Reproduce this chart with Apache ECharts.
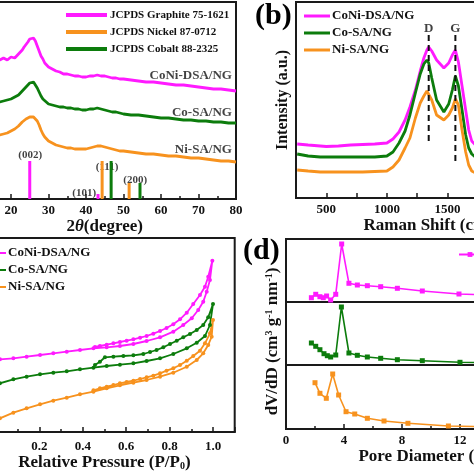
<!DOCTYPE html>
<html><head><meta charset="utf-8">
<script src="https://cdn.jsdelivr.net/npm/echarts@6/dist/echarts.min.js"></script>
<style>html,body{margin:0;padding:0;background:#fff}#c{width:474px;height:474px}</style>
</head><body><div id="c"></div>
<script>
// ---------- (a) XRD ----------
const xrdAngle = [15,16,17,18,19,20,21,22,23,23.5,24,24.5,25,25.5,26,26.5,27,27.5,28,28.5,29,30,31,32,33,34,35,36,37,38,39,40,41,42,43,44,45,46,47,48,49,50,52,54,56,58,60,62,64,66,68,70,72,74,76,78,80];
const xrdCoNi = [139,140,139,141,139,142,141,145,149,152,154,157,160,162,161,158,153,148,143,140,136,132,130,128,127,125,125,124,123,123,122,122,123,123,124,123,123,122,121,121,120,120,119,118,117,117,116,115,114,114,113,112,111,110,110,109,108];
const xrdCo   = [96,97,97,98,99,100,102,104,108,110,112,114,116,117,117,115,111,107,103,100,98,95,94,93,92,92,91,91,90,90,89,89,90,90,91,90,89,88,87,87,86,85,84,84,83,82,81,81,80,79,79,78,78,77,77,76,76];
const xrdNi   = [62,63,64,65,66,68,70,73,77,79,80,81,82,83,82,81,78,74,69,65,62,58,56,54,53,52,51,51,50,50,50,50,51,52,53,53,52,51,50,49,48,48,47,46,45,45,44,43,43,42,41,41,40,39,38,38,37];
const graphitePos = [25.0, 43.2], graphiteH = [38, 5];
const nickelPos = [44.3, 51.5],  nickelH = [38, 16];
const cobaltPos = [46.7, 54.4],  cobaltH = [38, 16];
const peakLabelText = ['(002)','(101)','(111)','(200)'];
const peakLabelX = [25.1, 39.5, 45.6, 53.1];
const peakLabelY = [44, 6, 32, 19];
const sampleNames = ['CoNi-DSA/NG','Co-SA/NG','Ni-SA/NG'];
const xrdNameX = 78.9;
const xrdNameY = [123, 86, 49];

// ---------- (b) Raman ----------
const ramanShift = [260,350,450,500,600,700,800,900,1000,1050,1100,1150,1190,1235,1275,1305,1330,1345,1370,1410,1470,1510,1540,1565,1590,1620,1650,1675,1700,1730,1800,1900,2000,2200,2500];
const ramanCoNi = [54,53,52,51.5,52,53,53.5,54,55,59,66,78,91,108,127,140,148,151,147,138,130,135,143,148,136,112,88,68,57,53,52,52,52,52,52];
const ramanCo   = [44,42,41,41,41,41,41,41,42,46,55,67,83,105,124,134,138,135,120,98,86,94,108,122,112,88,63,50,44,41,40,40,40,40,40];
const ramanNi   = [28,27,26,26,26,26,26,26.5,27,31,38,50,60,80,95,102,107,106,98,83,78,83,90,99,93,68,46,33,27,25,25,25,25,25,25];
const bandNames = ['D','G'];
const bandPos = [1345, 1565];
const bandTop = [163, 163];
const bandBottom = [56, 33];
const bandLabelY = [169, 169];

// ---------- (c) N2 isotherms ----------
const coniP = [0.018,0.08,0.141,0.203,0.264,0.326,0.387,0.449,0.51,0.571,0.633,0.694,0.756,0.817,0.863,0.902,0.932,0.955,0.971,0.986,0.997,0.978,0.963,0.94,0.909,0.879,0.848,0.817,0.786,0.756,0.725,0.694,0.664,0.633,0.602,0.571,0.541,0.51,0.479,0.456];
const coniV = [72.7,73.7,75.3,77,78.7,80.3,82,83.7,84.7,86,88,91,94.7,100.3,107,113.7,122,130.3,140.3,152,171.3,155.3,145.3,137,128,119.3,112.7,107.7,104,101,98.3,96,94.3,92.7,91.3,90,88.7,87.3,86,85];
const coP = [0.018,0.08,0.141,0.203,0.264,0.326,0.387,0.449,0.51,0.571,0.633,0.694,0.756,0.817,0.879,0.925,0.963,0.986,1.0,0.978,0.955,0.925,0.894,0.863,0.833,0.802,0.771,0.74,0.71,0.679,0.633,0.587,0.541,0.502,0.479,0.456];
const coV = [48.7,52.7,55.3,57.7,59.3,60.7,62.7,64.3,66,67.3,68.7,71,73.7,78,83.7,89.3,96,107,128,114.7,107,102,98,94.7,91.3,88,84.7,82,80,78,76.7,76,75.3,74.7,70.3,67];
const niP = [0.018,0.08,0.141,0.203,0.264,0.326,0.387,0.449,0.51,0.571,0.633,0.694,0.756,0.817,0.879,0.925,0.955,0.978,0.994,1.0,0.986,0.963,0.94,0.909,0.879,0.848,0.817,0.786,0.756,0.725,0.694,0.664,0.633,0.602,0.571,0.541,0.51,0.479,0.449];
const niV = [13.7,19.3,23.7,27.7,31.3,34.3,37.7,40.3,43.7,46.7,49.3,52,55.3,59.3,65.3,72,78.7,87,95.3,112,98.7,88.7,81.3,76,71.3,67,63.7,61.3,58.7,56.3,54.7,53,51.3,50,48.7,47,45.3,43.7,41.7];

// ---------- (d) pore size distribution ----------
const coniD  = [1.75,2.05,2.34,2.57,2.8,3.08,3.43,3.84,4.34,4.92,5.61,6.53,7.68,9.4,11.93,15.5,19.5];
const coniDV = [4.3,7.7,5.3,4.3,6,2,7.7,58,18.7,17,16.3,15.3,13.7,11,8,6.5,5];
const coD    = [1.75,2.05,2.34,2.62,2.85,3.08,3.43,3.82,4.34,4.92,5.61,6.53,7.68,9.4,12.0,15.5,19.5];
const coDV   = [22,18.7,15.3,11.3,9.3,8,10,58,12,9.7,8,6.7,5.3,4.3,2.7,1.8,1.3];
const niD    = [2.0,2.34,2.78,3.22,3.63,4.14,4.74,5.61,6.76,8.41,11.2,15,19.5];
const niDV   = [46.3,35.7,30.7,55,34,17.3,15,10.7,8,5.7,3,1.8,1.2];

// ---------- styling ----------
const F = 'Liberation Serif';
const MAG = '#ff1aff', GRN = '#0c7c0c', ORG = '#f7921e', INK = '#1a1a1a';
const zip = (xs, ys) => xs.map((x, i) => [x, ys[i]]);
const txt = (size) => ({fontFamily: F, fontWeight: 'bold', fontSize: size, color: '#111'});
const axLine = {show: true, lineStyle: {color: INK, width: 2}};
const gridBox = (o) => Object.assign({show: true, borderColor: INK, borderWidth: 2, backgroundColor: 'transparent', containLabel: false, outerBoundsMode: 'none'}, o);
const nameRich = (size) => ({
  n: txt(size),
  i: Object.assign(txt(size), {fontStyle: 'italic'}),
  sup: Object.assign(txt(Math.round(size * 0.6)), {verticalAlign: 'top', padding: [0, 0, 6, 0]}),
  sub: Object.assign(txt(Math.round(size * 0.6)), {padding: [8, 0, 0, 0]})
});
const hiddenY = (grid, max, extra) => Object.assign({
  gridIndex: grid, type: 'value', min: 0, max: max,
  axisLine: axLine, axisTick: {show: false}, axisLabel: {show: false}, splitLine: {show: false}
}, extra || {});
const tickX = (grid, min, max, interval, extra) => Object.assign({
  gridIndex: grid, type: 'value', min: min, max: max, interval: interval,
  axisLine: axLine,
  axisTick: {show: true, inside: true, length: 5, lineStyle: {color: INK, width: 1.5}},
  minorTick: {show: true, splitNumber: 2, length: 3, lineStyle: {color: INK, width: 1.5}},
  axisLabel: Object.assign(txt(13), {margin: 5}),
  splitLine: {show: false}, minorSplitLine: {show: false}
}, extra || {});
const labelSeries = (xi, yi, pts, size, align, z) => ({
  type: 'scatter', xAxisIndex: xi, yAxisIndex: yi, symbolSize: 0.1, z: z || 5,
  itemStyle: {color: 'rgba(0,0,0,0)'}, silent: true,
  data: pts.map(p => ({value: [p[0], p[1]], name: p[2]})),
  label: Object.assign(txt(size), {show: true, position: 'inside', align: align || 'center', verticalAlign: 'middle', formatter: p => p.name})
});
const lineS = (name, xi, data, color, w, extra) => Object.assign({
  name: name, type: 'line', xAxisIndex: xi, yAxisIndex: xi, data: data,
  symbol: 'none', lineStyle: {color: color, width: w}, itemStyle: {color: color}, z: 3
}, extra || {});

const option = {
  animation: false,
  backgroundColor: '#fff',
  title: [
    {text: '(b)', left: 255, top: 1, padding: 0, textStyle: Object.assign(txt(30), {color: '#000'})},
    {text: '(d)', left: 243, top: 236, padding: 0, textStyle: Object.assign(txt(30), {color: '#000'})}
  ],
  grid: [
    gridBox({left: -26.5, top: 2, width: 262.5, height: 197}),
    gridBox({left: 296, top: 2, width: 272.7, height: 196}),
    gridBox({left: -4, top: 238, width: 238.7, height: 194}),
    gridBox({left: 286, top: 239, width: 290, height: 63}),
    gridBox({left: 286, top: 302, width: 290, height: 63}),
    gridBox({left: 286, top: 365, width: 290, height: 64})
  ],
  xAxis: [
    tickX(0, 10, 80, 10, {name: '{n|2}{i|θ}{n|(degree)}', nameLocation: 'middle', nameGap: 12, nameTextStyle: Object.assign(txt(17), {rich: nameRich(17)})}),
    tickX(1, 250, 2500, 250, {minorTick: {show: false},
      axisLabel: Object.assign(txt(13), {margin: 5, formatter: v => (v % 500 === 0 ? String(v) : '')}),
      name: '{n|Raman Shift (cm}{sup|-1}{n|)}', nameLocation: 'middle', nameGap: 12, nameTextStyle: Object.assign(txt(17), {rich: nameRich(17)})}),
    tickX(2, 0, 1.1, 0.2, {
      axisLabel: Object.assign(txt(13), {margin: 8, showMinLabel: false, showMaxLabel: false, formatter: v => v.toFixed(1)}),
      name: '{n|Relative Pressure (P/P}{sub|0}{n|)}', nameLocation: 'middle', nameGap: 20,
      nameTextStyle: Object.assign(txt(17), {rich: nameRich(17), padding: [0, 22, 0, 0]})}),
    {gridIndex: 3, type: 'value', min: 0, max: 20, axisLine: axLine, axisTick: {show: false}, axisLabel: {show: false}, splitLine: {show: false}},
    {gridIndex: 4, type: 'value', min: 0, max: 20, axisLine: axLine, axisTick: {show: false}, axisLabel: {show: false}, splitLine: {show: false}},
    tickX(5, 0, 20, 4, {
      axisLabel: Object.assign(txt(13), {margin: 5}),
      name: 'Pore Diameter (nm)', nameLocation: 'middle', nameGap: 18, nameTextStyle: txt(17)})
  ],
  yAxis: [
    hiddenY(0, 197),
    hiddenY(1, 196, {name: 'Intensity (a.u.)', nameLocation: 'middle', nameGap: 5, nameTextStyle: txt(16)}),
    hiddenY(2, 194),
    hiddenY(3, 63),
    hiddenY(4, 63, {name: '{n|dV/dD (cm}{sup|3}{n| g}{sup|-1}{n| nm}{sup|-1}{n|)}', nameLocation: 'middle', nameGap: 5,
      nameTextStyle: Object.assign(txt(17), {rich: nameRich(17), padding: [0, 16, 0, 0]})}),
    hiddenY(5, 64)
  ],
  legend: [
    {orient: 'vertical', left: 66, top: 8, padding: 0, itemGap: 3, itemWidth: 41, itemHeight: 4, icon: 'rect', selectedMode: false,
      textStyle: Object.assign(txt(11), {lineHeight: 14, padding: [0, 0, 0, -2]}),
      data: ['JCPDS Graphite 75-1621', 'JCPDS Nickel 87-0712', 'JCPDS Cobalt 88-2325']},
    {orient: 'vertical', left: 304, top: 9, padding: 0, itemGap: 3, itemWidth: 26, itemHeight: 3, icon: 'rect', selectedMode: false,
      textStyle: Object.assign(txt(13), {lineHeight: 14, padding: [0, 0, 0, -3]}),
      data: sampleNames},
    {orient: 'vertical', left: -19, top: 246, padding: 0, itemGap: 3, itemWidth: 24, itemHeight: 6, selectedMode: false,
      textStyle: Object.assign(txt(13), {lineHeight: 14, padding: [0, 0, 0, -3]}),
      formatter: n => n.trim(),
      data: sampleNames.map(n => n + ' ')},
    {orient: 'vertical', left: 458, top: 248, padding: 0, itemGap: 3, itemWidth: 22, itemHeight: 6, selectedMode: false,
      textStyle: txt(13), formatter: n => n.trim(),
      data: [sampleNames[0] + '  ']}
  ],
  series: [
    // (a)
    labelSeries(0, 0, peakLabelX.map((x, i) => [x, peakLabelY[i], peakLabelText[i]]), 11, 'center', 1),
    {name: 'JCPDS Graphite 75-1621', type: 'bar', xAxisIndex: 0, yAxisIndex: 0, barWidth: 3, barGap: '-100%', z: 3,
      itemStyle: {color: MAG}, data: zip(graphitePos, graphiteH)},
    {name: 'JCPDS Nickel 87-0712', type: 'bar', xAxisIndex: 0, yAxisIndex: 0, barWidth: 3, barGap: '-100%', z: 3,
      itemStyle: {color: ORG}, data: zip(nickelPos, nickelH)},
    {name: 'JCPDS Cobalt 88-2325', type: 'bar', xAxisIndex: 0, yAxisIndex: 0, barWidth: 3, barGap: '-100%', z: 3,
      itemStyle: {color: GRN}, data: zip(cobaltPos, cobaltH)},
    lineS('XRD CoNi', 0, zip(xrdAngle, xrdCoNi), MAG, 2.8),
    lineS('XRD Co', 0, zip(xrdAngle, xrdCo), GRN, 2.8),
    lineS('XRD Ni', 0, zip(xrdAngle, xrdNi), ORG, 2.8),
    labelSeries(0, 0, sampleNames.map((n, i) => [xrdNameX, xrdNameY[i], n]), 13, 'right', 6),
    // (b)
    lineS(sampleNames[0], 1, zip(ramanShift, ramanCoNi), MAG, 2.8),
    lineS(sampleNames[1], 1, zip(ramanShift, ramanCo), GRN, 2.8),
    lineS(sampleNames[2], 1, zip(ramanShift, ramanNi), ORG, 2.8),
    ...bandPos.map((x, i) => lineS('band ' + bandNames[i], 1, [[x, bandTop[i]], [x, bandBottom[i]]], '#111', 2,
      {lineStyle: {color: '#111', width: 2, type: [6, 4]}, z: 4})),
    labelSeries(1, 1, bandPos.map((x, i) => [x, bandLabelY[i], bandNames[i]]), 13, 'center', 6),
    // (c)
    lineS(sampleNames[0] + ' ', 2, zip(coniP, coniV), MAG, 1.8, {symbol: 'circle', symbolSize: 4, showSymbol: true}),
    lineS(sampleNames[1] + ' ', 2, zip(coP, coV), GRN, 1.8, {symbol: 'circle', symbolSize: 4, showSymbol: true}),
    lineS(sampleNames[2] + ' ', 2, zip(niP, niV), ORG, 1.8, {symbol: 'circle', symbolSize: 4, showSymbol: true}),
    // (d)
    lineS(sampleNames[0] + '  ', 3, zip(coniD, coniDV), MAG, 1.6, {symbol: 'rect', symbolSize: 5, showSymbol: true}),
    lineS('PSD Co', 4, zip(coD, coDV), GRN, 1.6, {symbol: 'rect', symbolSize: 5, showSymbol: true}),
    lineS('PSD Ni', 5, zip(niD, niDV), ORG, 1.6, {symbol: 'rect', symbolSize: 5, showSymbol: true})
  ]
};
const chart = echarts.init(document.getElementById('c'), null, {renderer: 'canvas'});
chart.setOption(option);
</script>
</body></html>
